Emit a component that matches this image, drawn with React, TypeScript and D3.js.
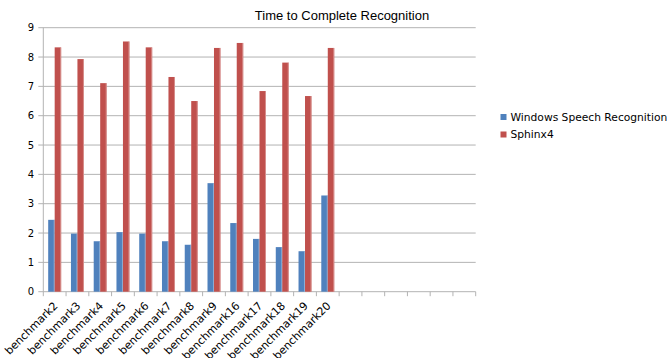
import React from "react";
import * as d3 from "d3";

const categories = ["benchmark2","benchmark3","benchmark4","benchmark5","benchmark6","benchmark7","benchmark8","benchmark9","benchmark16","benchmark17","benchmark18","benchmark19","benchmark20","","","","","",""];
const windowsValues = [2.45,1.98,1.72,2.03,1.98,1.72,1.60,3.70,2.34,1.80,1.52,1.38,3.28];
const sphinxValues = [8.33,7.93,7.11,8.53,8.33,7.32,6.50,8.31,8.48,6.84,7.81,6.67,8.31];
const yTicks = [0,1,2,3,4,5,6,7,8,9];
const seriesNames = ["Windows Speech Recognition","Sphinx4"];
const colors = ["#4f81bd","#c0504d"];

export default function App() {
  const W = 668, H = 358;
  const left = 43.3, right = 475.7, top = 27.7, bottom = 291.7;
  const x = d3.scaleBand<number>().domain(d3.range(categories.length)).range([left, right]).padding(0);
  const y = d3.scaleLinear().domain([0, 9]).range([bottom, top]);
  const bw = x.bandwidth();
  const barW = bw * 0.285;
  const font = "DejaVu Sans, sans-serif";
  const grid = "#b3b3b3";
  return (
    <svg width={W} height={H} style={{ position: "absolute", left: 0, top: 0, background: "#fff" }}>
      <text x={342} y={20} textAnchor="middle" fontFamily="Liberation Sans, Arial, sans-serif" fontSize={13} fill="#000">Time to Complete Recognition</text>
      {yTicks.map(t => (
        <g key={t}>
          <line x1={left - 5} x2={right} y1={y(t)} y2={y(t)} stroke={grid} strokeWidth={1} />
          <text x={34} y={y(t)} dy="0.35em" textAnchor="end" fontFamily={font} fontSize={10} fill="#000">{t}</text>
        </g>
      ))}
      <line x1={left} x2={left} y1={top} y2={bottom} stroke={grid} strokeWidth={1} />
      {categories.map((c, i) => (
        <line key={"t" + i} x1={(x(i) as number) + bw} x2={(x(i) as number) + bw} y1={bottom} y2={bottom + 4.5} stroke={grid} strokeWidth={1} />
      ))}
      <line x1={left} x2={left} y1={bottom} y2={bottom + 4.5} stroke={grid} strokeWidth={1} />
      {[windowsValues, sphinxValues].map((vals, s) => (
        <g key={s}>
          {vals.map((v, i) => {
            const cx = (x(i) as number) + bw / 2;
            const bx = s === 0 ? cx - barW : cx;
            return (
              <g key={i}>
                <rect x={bx} y={y(v)} width={barW} height={bottom - y(v)} fill={colors[s]} />
                <rect x={bx + barW - 1} y={y(v)} width={1} height={bottom - y(v)} fill={s === 0 ? "#a7c0de" : "#e0a8a6"} opacity={0.7} />
              </g>
            );
          })}
        </g>
      ))}
      {categories.map((c, i) => c ? (
        <text key={"l" + i} transform={`translate(${(x(i) as number) + bw / 2 + 1},${bottom + 12}) rotate(-45)`} textAnchor="end" dy="0.35em" fontFamily={font} fontSize={11} fill="#000">{c}</text>
      ) : null)}
      {seriesNames.map((n, i) => (
        <g key={n}>
          <rect x={500.5} y={114 + i * 17.5} width={6} height={6} fill={colors[i]} />
          <text x={510.5} y={117 + i * 17.5} dy="0.35em" fontFamily={font} fontSize={10.7} fill="#000">{n}</text>
        </g>
      ))}
    </svg>
  );
}
